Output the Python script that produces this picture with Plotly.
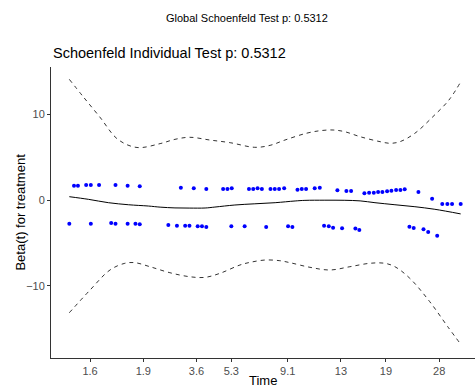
import plotly.graph_objects as go

# km-transformed event times (0..1) and scaled Schoenfeld residuals
upper_t = [0.012, 0.022, 0.043, 0.055, 0.076, 0.118, 0.149, 0.180, 0.285, 0.318,
           0.350, 0.393, 0.404, 0.415, 0.459, 0.470, 0.481, 0.492, 0.514, 0.525,
           0.536, 0.549, 0.583, 0.594, 0.605, 0.627, 0.640, 0.685, 0.708, 0.720,
           0.754, 0.766, 0.778, 0.789, 0.800, 0.812, 0.823, 0.835, 0.846, 0.857,
           0.892, 0.927, 0.953, 0.966, 0.978, 1.000]
upper_r = [1.69, 1.69, 1.77, 1.77, 1.77, 1.77, 1.69, 1.62, 1.46, 1.39,
           1.31, 1.31, 1.31, 1.39, 1.31, 1.31, 1.39, 1.31, 1.31, 1.31,
           1.31, 1.39, 1.23, 1.31, 1.31, 1.39, 1.46, 1.16, 1.07, 1.07,
           0.81, 0.88, 0.88, 0.96, 0.96, 1.04, 1.11, 1.19, 1.19, 1.27,
           0.96, 0.18, -0.44, -0.44, -0.44, -0.44]
lower_t = [0.000, 0.055, 0.107, 0.118, 0.149, 0.169, 0.180, 0.253, 0.275, 0.296,
           0.307, 0.328, 0.339, 0.350, 0.414, 0.448, 0.503, 0.559, 0.570, 0.651,
           0.663, 0.674, 0.697, 0.731, 0.741, 0.869, 0.880, 0.905, 0.917, 0.940]
lower_r = [-2.74, -2.74, -2.66, -2.74, -2.74, -2.74, -2.81, -2.89, -2.98, -2.98,
           -2.98, -3.05, -3.05, -3.13, -3.05, -3.05, -3.13, -3.05, -3.13, -2.98,
           -3.05, -3.21, -3.28, -3.30, -3.48, -3.09, -3.24, -3.40, -3.71, -4.14]

# smooth beta(t) fit
fit_t = [0.000, 0.049, 0.100, 0.151, 0.202, 0.232, 0.270, 0.308, 0.347, 0.372,
         0.423, 0.474, 0.526, 0.577, 0.602, 0.653, 0.704, 0.743, 0.781, 0.832,
         0.883, 0.934, 1.000]
fit_b = [0.41, 0.10, -0.29, -0.53, -0.68, -0.81, -0.90, -0.92, -0.91, -0.80,
         -0.56, -0.42, -0.29, -0.09, -0.02, 0.00, -0.01, -0.08, -0.29, -0.53,
         -0.76, -1.06, -1.60]

# confidence band
up_t = [0.000, 0.035, 0.078, 0.124, 0.173, 0.232, 0.270, 0.308, 0.359, 0.411,
        0.474, 0.513, 0.551, 0.605, 0.641, 0.674, 0.704, 0.743, 0.794, 0.820,
        0.845, 0.883, 0.929, 0.970, 1.000]
up_b = [14.1, 12.1, 9.7, 7.1, 6.15, 6.6, 7.1, 7.34, 7.02, 6.71,
        6.17, 6.4, 7.02, 7.8, 8.11, 8.19, 7.99, 7.41, 6.83, 6.64,
        6.83, 7.81, 9.74, 11.69, 13.8]
lo_t = [0.000, 0.053, 0.104, 0.142, 0.168, 0.206, 0.257, 0.308, 0.347, 0.385,
        0.436, 0.462, 0.500, 0.538, 0.564, 0.615, 0.666, 0.717, 0.768, 0.806,
        0.832, 0.870, 0.921, 0.967, 1.000]
lo_b = [-13.13, -10.48, -8.14, -7.36, -7.29, -7.76, -8.46, -8.93, -9.0, -8.53,
        -7.56, -7.25, -6.98, -7.06, -7.29, -7.83, -8.14, -7.76, -7.36, -7.36,
        -7.76, -9.11, -11.84, -14.76, -16.8]

tick_pos = [0.053, 0.189, 0.325, 0.414, 0.558, 0.694, 0.809, 0.945]
tick_lab = ["1.6", "1.9", "3.6", "5.3", "9.1", "13", "19", "28"]

FONT = "Liberation Sans, Arial, sans-serif"

fig = go.Figure()
fig.add_trace(go.Scatter(x=up_t, y=up_b, mode="lines", line_shape="spline",
                         line=dict(color="#333333", width=1, dash="4px,4px"),
                         hoverinfo="skip"))
fig.add_trace(go.Scatter(x=lo_t, y=lo_b, mode="lines", line_shape="spline",
                         line=dict(color="#333333", width=1, dash="4px,4px"),
                         hoverinfo="skip"))
fig.add_trace(go.Scatter(x=fit_t, y=fit_b, mode="lines", line_shape="spline",
                         line=dict(color="black", width=1)))
fig.add_trace(go.Scatter(x=upper_t + lower_t, y=upper_r + lower_r, mode="markers",
                         marker=dict(color="blue", size=4, line=dict(width=0))))

fig.update_layout(
    width=475, height=389,
    margin=dict(l=51, r=0, t=67, b=31),
    paper_bgcolor="white", plot_bgcolor="white",
    showlegend=False,
    font=dict(family=FONT, color="#4d4d4d", size=11),
    xaxis=dict(range=[-0.0468, 1.0366], tickvals=tick_pos, ticktext=tick_lab,
               showgrid=False, zeroline=False, showline=True, linecolor="#333333",
               linewidth=1, ticks="outside", ticklen=3, tickcolor="#333333",
               tickfont=dict(size=11, color="#4d4d4d")),
    yaxis=dict(range=[-18.41, 15.54], tickvals=[-10, 0, 10],
               showgrid=False, zeroline=False, showline=True, linecolor="#333333",
               linewidth=1, ticks="outside", ticklen=3, tickcolor="#333333",
               tickfont=dict(size=11, color="#4d4d4d")),
    annotations=[
        dict(text="Global Schoenfeld Test p: 0.5312", xref="paper", yref="paper",
             x=0.462, y=1.168, xanchor="center", yanchor="middle", showarrow=False,
             font=dict(family=FONT, size=11, color="black")),
        dict(text="Schoenfeld Individual Test p: 0.5312", xref="paper", yref="paper",
             x=0.0, y=1.048, xanchor="left", yanchor="middle", showarrow=False,
             font=dict(family=FONT, size=14.5, color="black")),
        dict(text="Beta(t) for treatment", xref="paper", yref="paper",
             x=-0.073, y=0.5, xanchor="center", yanchor="middle", textangle=-90,
             showarrow=False, font=dict(family=FONT, size=13, color="black")),
        dict(text="Time", xref="paper", yref="paper",
             x=0.5, y=-0.078, xanchor="center", yanchor="middle",
             showarrow=False, font=dict(family=FONT, size=13, color="black")),
    ],
)

fig.write_html("out.html")
